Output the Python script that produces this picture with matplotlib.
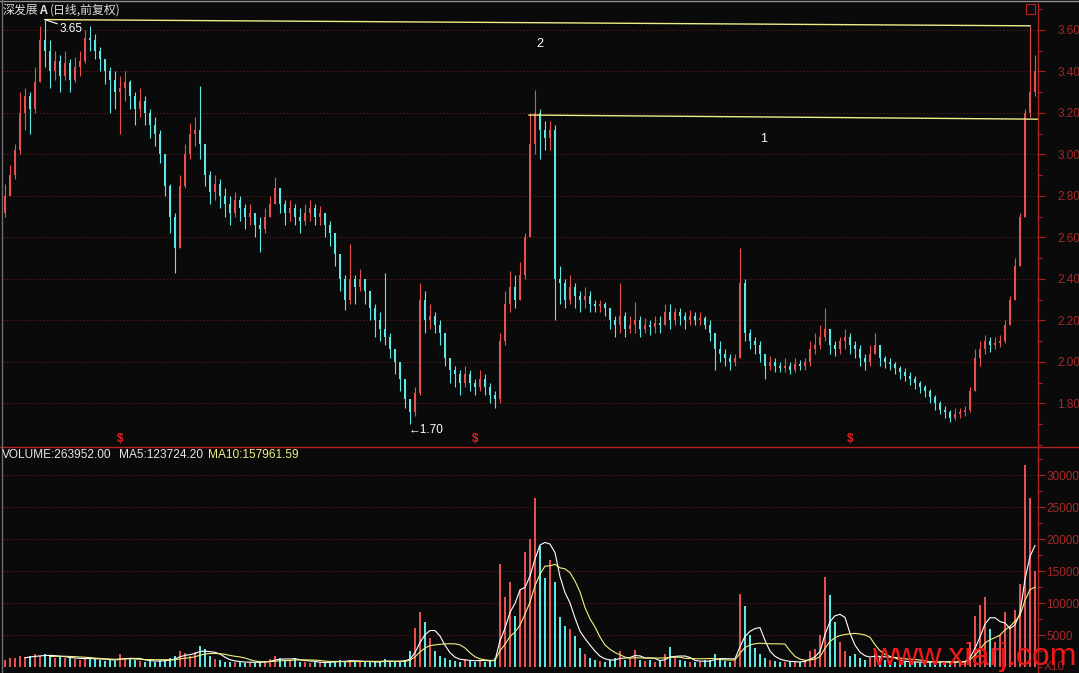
import numpy as np
import pandas as pd
import matplotlib
matplotlib.use('Agg')
import matplotlib.pyplot as plt
from matplotlib.lines import Line2D
from matplotlib.patches import Rectangle
from matplotlib.ticker import MultipleLocator

# daily candles, forward adjusted
open0 = 2.72
close = [2.80, 2.90, 3.02, 3.20, 3.28, 3.22, 3.35, 3.55, 3.50, 3.40,
         3.45, 3.38, 3.44, 3.36, 3.42, 3.45, 3.56, 3.55, 3.50, 3.46,
         3.40, 3.36, 3.30, 3.32, 3.35, 3.28, 3.22, 3.26, 3.20, 3.14,
         3.10, 3.00, 2.85, 2.70, 2.55, 2.85, 3.00, 3.10, 3.12, 3.05,
         2.90, 2.82, 2.86, 2.80, 2.76, 2.72, 2.78, 2.74, 2.70, 2.72,
         2.66, 2.64, 2.70, 2.76, 2.84, 2.76, 2.72, 2.74, 2.70, 2.68,
         2.72, 2.74, 2.70, 2.72, 2.66, 2.62, 2.52, 2.40, 2.30, 2.40,
         2.36, 2.40, 2.34, 2.26, 2.20, 2.16, 2.12, 2.06, 2.00, 1.92,
         1.82, 1.76, 1.85, 2.30, 2.20, 2.22, 2.18, 2.14, 2.02, 1.96,
         1.94, 1.90, 1.94, 1.90, 1.88, 1.92, 1.88, 1.84, 1.82, 2.10,
         2.28, 2.36, 2.30, 2.42, 2.60, 3.05, 3.20, 3.12, 3.08, 3.12,
         2.40, 2.38, 2.30, 2.36, 2.32, 2.30, 2.32, 2.28, 2.27, 2.28,
         2.26, 2.20, 2.18, 2.22, 2.16, 2.18, 2.20, 2.16, 2.18, 2.17,
         2.19, 2.18, 2.24, 2.20, 2.24, 2.22, 2.20, 2.22, 2.20, 2.21,
         2.18, 2.14, 2.06, 2.04, 2.02, 2.00, 2.02, 2.38, 2.14, 2.10,
         2.08, 2.04, 1.98, 2.00, 1.98, 1.97, 1.98, 1.96, 1.99, 1.98,
         2.00, 2.06, 2.08, 2.12, 2.16, 2.08, 2.06, 2.10, 2.12, 2.08,
         2.06, 2.02, 2.00, 2.04, 2.08, 2.02, 2.00, 1.99, 1.97, 1.95,
         1.93, 1.92, 1.90, 1.88, 1.86, 1.83, 1.80, 1.77, 1.76, 1.73,
         1.75, 1.76, 1.77, 1.86, 2.02, 2.06, 2.10, 2.08, 2.09, 2.10,
         2.18, 2.30, 2.46, 2.70, 3.20, 3.30, 3.40]
high = [2.86, 2.95, 3.05, 3.30, 3.32, 3.30, 3.42, 3.62, 3.65, 3.55,
        3.50, 3.48, 3.50, 3.46, 3.47, 3.50, 3.60, 3.62, 3.58, 3.52,
        3.46, 3.42, 3.40, 3.38, 3.40, 3.36, 3.30, 3.32, 3.28, 3.22,
        3.18, 3.12, 3.00, 2.86, 2.72, 2.90, 3.05, 3.15, 3.18, 3.33,
        3.05, 2.92, 2.90, 2.88, 2.84, 2.80, 2.82, 2.80, 2.76, 2.76,
        2.72, 2.70, 2.74, 2.80, 2.89, 2.84, 2.78, 2.78, 2.76, 2.74,
        2.76, 2.78, 2.76, 2.75, 2.72, 2.68, 2.62, 2.52, 2.42, 2.57,
        2.42, 2.45, 2.40, 2.34, 2.28, 2.24, 2.43, 2.14, 2.06, 2.00,
        1.92, 1.82, 1.88, 2.38, 2.34, 2.28, 2.24, 2.20, 2.14, 2.02,
        1.98, 1.96, 1.98, 1.96, 1.92, 1.96, 1.94, 1.90, 1.86, 2.14,
        2.34, 2.44, 2.42, 2.48, 2.62, 3.20, 3.31, 3.22, 3.16, 3.16,
        3.14, 2.46, 2.40, 2.42, 2.38, 2.34, 2.36, 2.34, 2.30, 2.30,
        2.29, 2.26, 2.22, 2.38, 2.24, 2.22, 2.29, 2.22, 2.21, 2.20,
        2.22, 2.22, 2.28, 2.28, 2.26, 2.26, 2.24, 2.25, 2.24, 2.24,
        2.22, 2.20, 2.14, 2.10, 2.06, 2.04, 2.04, 2.55, 2.40, 2.16,
        2.12, 2.10, 2.04, 2.03, 2.02, 2.00, 2.02, 2.00, 2.02, 2.01,
        2.02, 2.10, 2.14, 2.18, 2.26, 2.16, 2.10, 2.12, 2.16, 2.14,
        2.10, 2.08, 2.04, 2.08, 2.14, 2.08, 2.03, 2.02, 2.00, 1.98,
        1.97, 1.95, 1.93, 1.91, 1.89, 1.87, 1.84, 1.81, 1.79, 1.77,
        1.78, 1.78, 1.79, 1.88, 2.06, 2.10, 2.13, 2.12, 2.12, 2.13,
        2.20, 2.32, 2.50, 2.72, 3.22, 3.62, 3.48]
low = [2.70, 2.80, 2.88, 3.00, 3.12, 3.10, 3.20, 3.35, 3.42, 3.32,
       3.36, 3.30, 3.36, 3.30, 3.35, 3.38, 3.44, 3.50, 3.46, 3.40,
       3.34, 3.20, 3.22, 3.10, 3.26, 3.22, 3.14, 3.18, 3.14, 3.08,
       3.04, 2.96, 2.80, 2.62, 2.43, 2.55, 2.84, 2.98, 3.04, 2.98,
       2.85, 2.76, 2.78, 2.74, 2.70, 2.66, 2.70, 2.68, 2.64, 2.66,
       2.60, 2.53, 2.62, 2.70, 2.76, 2.72, 2.66, 2.68, 2.66, 2.62,
       2.66, 2.68, 2.66, 2.66, 2.60, 2.56, 2.46, 2.34, 2.25, 2.28,
       2.28, 2.34, 2.28, 2.20, 2.12, 2.10, 2.08, 2.02, 1.94, 1.86,
       1.78, 1.70, 1.74, 1.84, 2.14, 2.16, 2.14, 2.08, 1.98, 1.90,
       1.88, 1.84, 1.88, 1.86, 1.84, 1.86, 1.84, 1.80, 1.78, 1.80,
       2.08, 2.24, 2.26, 2.30, 2.40, 2.60, 3.00, 2.98, 3.02, 3.02,
       2.20, 2.28, 2.26, 2.28, 2.26, 2.24, 2.26, 2.24, 2.24, 2.24,
       2.22, 2.16, 2.12, 2.14, 2.12, 2.14, 2.14, 2.12, 2.14, 2.13,
       2.14, 2.14, 2.18, 2.16, 2.18, 2.18, 2.16, 2.18, 2.18, 2.18,
       2.16, 2.10, 1.96, 2.00, 1.98, 1.96, 1.98, 2.02, 2.10, 2.06,
       2.04, 2.00, 1.92, 1.96, 1.95, 1.95, 1.95, 1.94, 1.95, 1.96,
       1.96, 1.98, 2.04, 2.06, 2.10, 2.04, 2.03, 2.04, 2.06, 2.04,
       2.02, 1.98, 1.96, 1.98, 2.04, 1.98, 1.97, 1.96, 1.94, 1.92,
       1.91, 1.89, 1.87, 1.85, 1.83, 1.80, 1.77, 1.75, 1.73, 1.71,
       1.72, 1.73, 1.74, 1.76, 1.86, 1.98, 2.04, 2.05, 2.06, 2.07,
       2.09, 2.18, 2.30, 2.46, 2.70, 3.18, 3.28]
# volume, in units of x10 lots (as on the right axis)
volume = [1200, 1500, 1400, 1800, 1600, 1700, 2000, 1800, 2100, 1700,
          1500, 1600, 1400, 1500, 1300, 1200, 1400, 1500, 1300, 1100,
          1000, 1200, 1000, 2000, 1500, 1300, 1100, 1000, 900, 1000,
          900, 1100, 1200, 1500, 1800, 2600, 2200, 1800, 2400, 3400,
          2800, 1800, 1300, 1100, 900, 800, 900, 800, 700, 800,
          700, 900, 1000, 1300, 1700, 1400, 1100, 1000, 1500, 900,
          800, 700, 800, 700, 800, 900, 1000, 1100, 900, 1200,
          900, 800, 800, 900, 800, 900, 1300, 900, 800, 900,
          1200, 2500, 6100, 8600, 7000, 4500, 2500, 1800, 1400, 1200,
          1000, 900, 1300, 1000, 900, 1200, 900, 1000, 1400, 16200,
          11000, 13300, 8000, 12000, 18000, 20000, 26500, 19000, 14000, 16700,
          13300, 7800, 6500, 6000, 4900, 3000, 2000, 1500, 1200, 1000,
          900, 1100, 1500, 2500, 1200, 1300, 2700, 1200, 1000, 1100,
          900, 1000, 2000, 3100, 1500, 1200, 1000, 900, 800, 900,
          1100, 1200, 2000, 1500, 1000, 900, 1200, 11500, 9500, 5000,
          3000, 2000, 1500, 1100, 1000, 800, 900, 800, 900, 800,
          1200, 2500, 2800, 5000, 14100, 11300, 7000, 4000, 2500, 1800,
          2000, 1500, 1200, 1500, 2500, 1800, 1200, 1000, 900, 800,
          800, 900, 800, 700, 800, 900, 800, 900, 800, 900,
          800, 900, 1000, 4000, 8000, 9800, 10900, 6000, 4000, 5000,
          8700, 6500, 9000, 13000, 31600, 26500, 15000]

price_ticks = [1.80, 2.00, 2.20, 2.40, 2.60, 2.80, 3.00, 3.20, 3.40, 3.60]
vol_ticks = [5000, 10000, 15000, 20000, 25000, 30000]
signal_idx = [23, 94, 169]
# trend lines: x0, y0, x1, y1, label, label_x, label_y
trend_lines = [(8, 3.65, 205, 3.62, '2', 107, 3.53),
               (104.8, 3.19, 206.6, 3.17, '1', 151.8, 3.075)]

BG = '#0a0a0a'
RED = '#e65050'
CYAN = '#5ce6e6'
AXRED = '#b02222'
LABRED = '#a82828'
GRID = '#6a1a1a'

plt.rcParams['font.family'] = ['Liberation Sans', 'DejaVu Sans']

close = np.array(close)
high = np.array(high)
low = np.array(low)
opens = np.r_[open0, close[:-1]]
high = np.maximum(high, np.maximum(opens, close))
low = np.minimum(low, np.minimum(opens, close))
vol = np.array(volume)
n = len(close)
x = np.arange(n)
col = np.where(close >= opens, RED, CYAN)
ma5 = pd.Series(vol).rolling(5).mean()
ma10 = pd.Series(vol).rolling(10).mean()

W, H = 1079, 673
fig = plt.figure(figsize=(W / 100, H / 100), dpi=100, facecolor=BG)


def px_box(left, top, right, bottom):
    return [left / W, 1 - bottom / H, (right - left) / W, (bottom - top) / H]


ax = fig.add_axes(px_box(3, 3, 1038, 447))
axv = fig.add_axes(px_box(3, 447, 1038, 673))

# price pane
ax.vlines(x, low, high, colors=col, lw=0.8)
body = np.maximum(np.abs(close - opens), 0.004)
ax.bar(x, body, bottom=np.minimum(opens, close), width=0.45, color=col, lw=0)
ax.set_xlim(-0.4, 206.6)
ax.set_ylim(1.590, 3.730)

for x0, y0, x1, y1, lab, lx, ly in trend_lines:
    ax.plot([x0, x1], [y0, y1], color='#eeee88', lw=1)
    ax.text(lx, ly, lab, color='white', fontsize=9, ha='center', va='center')

ih = int(np.argmax(high))
ax.annotate('%.2f' % high[ih], xy=(ih, high[ih]), xytext=(15, -9),
            textcoords='offset pixels', color='white', fontsize=8.5,
            ha='left', va='center',
            arrowprops=dict(arrowstyle='-', color='white', lw=0.8,
                            shrinkA=0, shrinkB=0))
il = int(np.argmin(low))
ax.annotate('\u2190%.2f' % low[il], xy=(il, low[il]), xytext=(-1, -6),
            textcoords='offset pixels', color='white', fontsize=8.5,
            ha='left', va='center')

for i in signal_idx:
    ax.text(i, 0.004, '$', transform=ax.get_xaxis_transform(), color='#e02020',
            fontsize=8.5, fontweight='bold', ha='center', va='bottom')

# volume pane
axv.bar(x, vol, width=0.5, color=col, lw=0)
axv.plot(x, ma5, color='white', lw=0.8)
axv.plot(x, ma10, color='#f0f080', lw=0.8)
axv.set_xlim(-0.4, 206.6)
axv.set_ylim(-890, 34400)

for a in (ax, axv):
    a.set_facecolor(BG)
    for s in ['top', 'left', 'bottom']:
        a.spines[s].set_visible(False)
    a.spines['right'].set_color(AXRED)
    a.spines['right'].set_linewidth(1)
    a.yaxis.tick_right()
    a.tick_params(axis='x', which='both', bottom=False, labelbottom=False)
    a.tick_params(axis='y', which='both', colors=AXRED, labelcolor=LABRED,
                  labelsize=8.5, width=0.8)
    a.yaxis.grid(True, which='major', color=GRID, linestyle=(0, (1, 2)), lw=0.8)
    a.set_axisbelow(True)

ax.set_yticks(price_ticks)
ax.set_yticklabels(['%.2f' % t for t in price_ticks])
ax.yaxis.set_minor_locator(MultipleLocator(0.1))
ax.tick_params(axis='y', which='major', length=5, pad=9)
ax.tick_params(axis='y', which='minor', length=3)

axv.set_yticks(vol_ticks)
axv.set_yticklabels([str(t) for t in vol_ticks])
axv.yaxis.set_minor_locator(MultipleLocator(2500))
axv.tick_params(axis='y', which='major', length=5, pad=0.8, labelsize=8.5)
axv.tick_params(axis='y', which='minor', length=3)

# frame lines
fig.add_artist(Line2D([0, 1], [1 - 447 / H] * 2, color=AXRED, lw=1))
fig.add_artist(Line2D([0, 1], [1 - 0.5 / H] * 2, color='#909090', lw=1))
fig.add_artist(Line2D([1.5 / W] * 2, [0, 1], color='#707070', lw=1))
fig.add_artist(Rectangle((1026 / W, 1 - 14 / H), 9 / W, 10 / H, fill=False,
                         edgecolor='#c02020', lw=0.8))

# header texts
cjk = ['Noto Sans CJK SC', 'DejaVu Sans']
fig.text(3 / W, 1 - 10 / H, '深发展', family=cjk, color='#dcdcdc', fontsize=8.6, va='center')
fig.text(39 / W, 1 - 10 / H, 'A', family=cjk, color='#dcdcdc', fontsize=8.6,
         fontweight='bold', va='center')
fig.text(50 / W, 1 - 10 / H, '(日线,前复权)', family=cjk, color='#dcdcdc', fontsize=8.6, va='center')

fig.text(2 / W, 1 - 455.5 / H, 'VOLUME:263952.00', color='#e6e6e6', fontsize=8.6, va='center')
fig.text(119 / W, 1 - 455.5 / H, 'MA5:123724.20', color='#e6e6e6', fontsize=8.6, va='center')
fig.text(208 / W, 1 - 455.5 / H, 'MA10:157961.59', color='#eeee88', fontsize=8.6, va='center')

fig.text(1044 / W, 1 - 670 / H, 'X10', color=LABRED, fontsize=8.5, va='baseline')
fig.text(872 / W, 1 - 665 / H, 'www.xiarj.com', color='#f01818', fontsize=23, va='baseline')

fig.savefig('out.png', dpi=100, facecolor=BG)
